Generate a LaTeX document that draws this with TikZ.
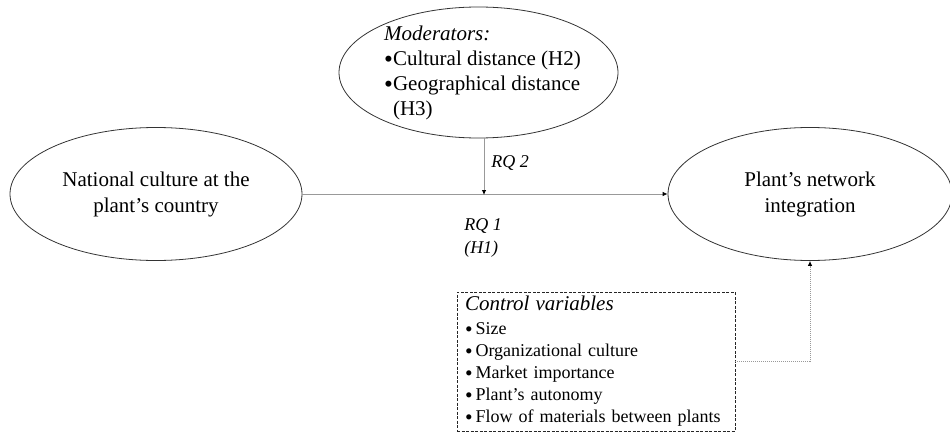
\documentclass[tikz,border=0pt]{standalone}
\usepackage{fontspec}
\setmainfont{Liberation Serif}
\usetikzlibrary{shapes.geometric,arrows.meta}

\newcommand{\punkt}{\raisebox{-0.07em}{\scalebox{1.2}{\textbullet}}}

\begin{document}
\begin{tikzpicture}[%
        x=1pt, y=-1pt,
        konstrukt/.style={draw=black!80, line width=0.8pt, ellipse, inner sep=0pt,
            align=center, font=\fontsize{21}{26}\selectfont},
        label/.style={font=\fontsize{18}{23}\selectfont\itshape, align=left, inner sep=0pt},
        pfeil/.style={draw=black!40, line width=0.8pt,
            -{Latex[length=5pt,width=4.5pt,color=black]}},
        kontrolle/.style={draw=black!85, line width=0.7pt, dash pattern=on 3pt off 1.5pt,
            text width=262pt, inner xsep=8pt, minimum height=139pt, align=left,
            font=\fontsize{18}{22}\selectfont}
        ]
            \useasboundingbox (0,0) rectangle (950,433);

            % Konstrukte
            \node [konstrukt, minimum width=292pt, minimum height=133pt] (kultur)
                at (156,194) {National culture at the\\plant's country};
            \node [konstrukt, minimum width=284pt, minimum height=133pt] (netz)
                at (810,194) {Plant's network\\integration};
            \node [konstrukt, minimum width=279pt, minimum height=131pt] (mod)
                at (478.5,72.5) {};
            \node [align=left, inner sep=0pt, font=\fontsize{21}{25}\selectfont] (modtext)
                at (482.5,73) {\textit{Moderators:}\\
                               \punkt Cultural distance (H2)\\
                               \punkt Geographical distance\\
                               \hphantom{\punkt}(H3)};

            % Kontrollvariablen
            \node [kontrolle] (ctrl) at (596,361.5)
                {{\fontsize{21}{25}\selectfont\itshape Control variables}\\[2pt]
                 \punkt\,Size\\
                 \punkt\,Organizational culture\\
                 \punkt\,Market importance\\
                 \punkt\,Plant's autonomy\\
                 \punkt\,Flow of materials between plants};

            % Pfeile
            \coordinate (mitte) at (484,195);
            \draw [pfeil] (kultur.east) -- (netz.west);
            \draw [pfeil] (mod.south -| mitte) -- (mitte);
            \draw [pfeil, dash pattern=on 1pt off 1pt] (ctrl.east) -| (netz.south);

            % Beschriftungen
            \node [label] (rq2) at (510,163) {RQ 2};
            \node [label] (rq1) at (483,238) {RQ 1\\(H1)};

        \end{tikzpicture}
\end{document}
